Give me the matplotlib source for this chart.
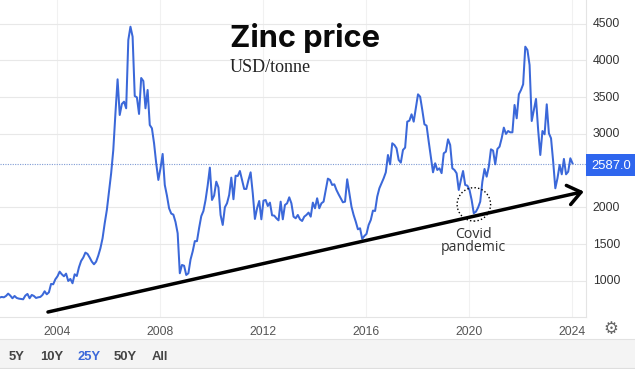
import numpy as np
import matplotlib
matplotlib.use("Agg")
import matplotlib.pyplot as plt
from matplotlib.patches import Ellipse, Rectangle
from matplotlib.transforms import ScaledTranslation

# monthly zinc price, Oct 2001 to Jan 2024
first_year = 2001.75
prices = [
    772, 781, 776, 794, 826, 799, 763, 794, 767, 758, 754, 749, 799, 822, 763, 808,
    794, 767, 776, 781, 808, 858, 817, 844, 958, 953, 1021, 1062, 1125, 1089, 1062, 1098,
    998, 1026, 967, 1089, 1066, 1184, 1270, 1316, 1384, 1366, 1316, 1261, 1225, 1261, 1343, 1443,
    1579, 1783, 1964, 2213, 2463, 2780, 3279, 3741, 3256, 3406, 3437, 3347, 4276, 4457, 4321, 3514,
    3496, 3270, 3759, 3718, 3347, 3596, 3120, 3075, 2871, 2599, 2372, 2531, 2726, 2304, 2159, 1987,
    1915, 1900, 1800, 1647, 1103, 1216, 1205, 1080, 1103, 1290, 1400, 1540, 1540, 1720, 1880, 1950,
    2100, 2300, 2540, 2100, 2160, 2349, 2270, 1896, 1760, 2000, 2055, 2168, 2404, 2110, 2430, 2426,
    2494, 2372, 2250, 2250, 2372, 2476, 2191, 1842, 1987, 2086, 1837, 2091, 2100, 2018, 2064, 1891,
    1887, 1851, 1823, 2077, 1837, 2032, 2055, 2136, 2055, 1873, 1851, 1896, 1837, 1814, 1873, 1896,
    1928, 1873, 2064, 1987, 2123, 1987, 2055, 2077, 2236, 2390, 2372, 2304, 2313, 2236, 2177, 2123,
    2068, 2077, 2381, 2191, 2009, 1896, 1805, 1701, 1715, 1570, 1610, 1638, 1760, 1828, 1955, 1950,
    2145, 2259, 2327, 2395, 2476, 2712, 2585, 2871, 2848, 2803, 2644, 2608, 2780, 2812, 3165, 3179,
    3265, 3165, 3347, 3537, 3505, 3324, 3129, 3111, 2893, 2689, 2476, 2599, 2508, 2531, 2465, 2735,
    2757, 2925, 2848, 2531, 2508, 2463, 2236, 2372, 2494, 2304, 2295, 2236, 2100, 1919, 1941, 1996,
    2077, 2349, 2522, 2417, 2553, 2789, 2771, 2585, 2794, 2825, 2939, 3084, 2998, 3038, 3020, 3020,
    3392, 3211, 3537, 3596, 3673, 4185, 4140, 3936, 3174, 3324, 3474, 3052, 2712, 3038, 2993, 3401,
    3007, 2939, 2621, 2259, 2395, 2576, 2449, 2658, 2449, 2485, 2667, 2599,
]
last_price = 2587.0
year_ticks = [2004, 2008, 2012, 2016, 2020, 2024]
price_ticks = [1000, 1500, 2000, 2500, 3000, 3500, 4000, 4500]
price_labels = ["1000", "1500", "2000", "", "3000", "3500", "4000", "4500"]
range_buttons = ["5Y", "10Y", "25Y", "50Y", "All"]
button_x = [9, 40, 77, 114, 152]

W, H = 635, 369
BLUE = "#3b68d9"
fig = plt.figure(figsize=(W / 100, H / 100), dpi=100, facecolor="white")

# main plot area, right edge 586 px, bottom edge 317 px
ax = fig.add_axes([0, 1 - 317.3 / H, 585.7 / W, 317.3 / H])
ax.set_xlim(2001.767, 2024.513)
ax.set_ylim(504, 4820)
for s in ["top", "left"]:
    ax.spines[s].set_visible(False)
ax.spines["bottom"].set_color("#e4e4e4")
ax.spines["right"].set_color("#e4e4e4")

ax.set_xticks(year_ticks)
ax.set_xticklabels([str(y) for y in year_ticks])
ax.yaxis.tick_right()
ax.set_yticks(price_ticks)
ax.set_yticklabels(price_labels)
ax.tick_params(axis="x", length=0, pad=6, labelsize=8.8, labelcolor="#555555")
ax.tick_params(axis="y", length=0, pad=5, labelsize=8.8, labelcolor="#333333")
for t in ax.get_xticklabels() + ax.get_yticklabels():
    t.set_fontfamily("Liberation Sans")
for t in ax.get_yticklabels():
    t.set_transform(t.get_transform() + ScaledTranslation(0, 1 / 100, fig.dpi_scale_trans))
ax.grid(axis="y", color="#e8e8e8", lw=0.8)
ax.grid(axis="x", color="#f1f1f1", lw=0.8)
ax.set_axisbelow(True)
# the 2500 level has no gridline in the source
ax.get_ygridlines()[3].set_visible(False)

years = first_year + np.arange(len(prices)) / 12
ax.axhline(last_price, color="#7f9bd4", lw=0.8, ls=(0, (1, 1.2)), zorder=2)
ax.plot(years, prices, color=BLUE, lw=1.45, solid_joinstyle="round", zorder=3)

# trend arrow and covid marker
ax.annotate(
    "", xy=(2024.44, 2215), xytext=(2003.63, 576),
    arrowprops=dict(arrowstyle="->,head_length=0.42,head_width=0.32", color="black",
                    lw=2.5, mutation_scale=22, shrinkA=0, shrinkB=0),
    zorder=4, annotation_clip=False,
)
ax.add_patch(Ellipse((2020.17, 2040), 1.30, 454, fill=False, ec="black", lw=1.0,
                     ls=(0, (1, 1.6)), zorder=5))
ax.text(2020.17, 1545, "Covid\npandemic", ha="center", va="center", fontsize=10.2,
        family="Open Sans", color="#333333", linespacing=0.86)

# last price flag on the right axis
fig.patches.append(Rectangle((586 / W, 1 - 175.7 / H), 49 / W, 21.7 / H,
                             transform=fig.transFigure, fc="#2f66ee", ec="none"))
fig.text(611.5 / W, 1 - 165.5 / H, f"{last_price:.1f}", ha="center", va="center",
         fontsize=9.4, family="Liberation Sans", color="white")

# titles
fig.text(229.5 / W, 1 - 47 / H, "Zinc price", ha="left", va="baseline", fontsize=22.2,
         fontweight="bold", family="Inter", color="#0a0a0a")
fig.text(230 / W, 1 - 72 / H, "USD/tonne", ha="left", va="baseline", fontsize=13,
         family="Liberation Serif", color="#222222")

# range selector strip
fig.patches.append(Rectangle((0, 1 - 367.5 / H), 1, 28.5 / H, transform=fig.transFigure,
                             fc="#f4f4f4", ec="none"))
fig.add_artist(plt.Line2D([0, 1], [1 - 339 / H] * 2, color="#e2e2e2", lw=0.8))
fig.add_artist(plt.Line2D([0, 1], [1 - 367.5 / H] * 2, color="#dedede", lw=0.8))
for label, bx in zip(range_buttons, button_x):
    fig.text(bx / W, 1 - 356.7 / H, label, ha="left", va="center", fontsize=9.4,
             fontweight="bold", family="Liberation Sans",
             color=BLUE if label == "25Y" else "#444444")
fig.text(611 / W, 1 - 329 / H, "\u2699", ha="center", va="center", fontsize=12,
         family="DejaVu Sans", color="#666666")

fig.savefig("out.png", dpi=100)
